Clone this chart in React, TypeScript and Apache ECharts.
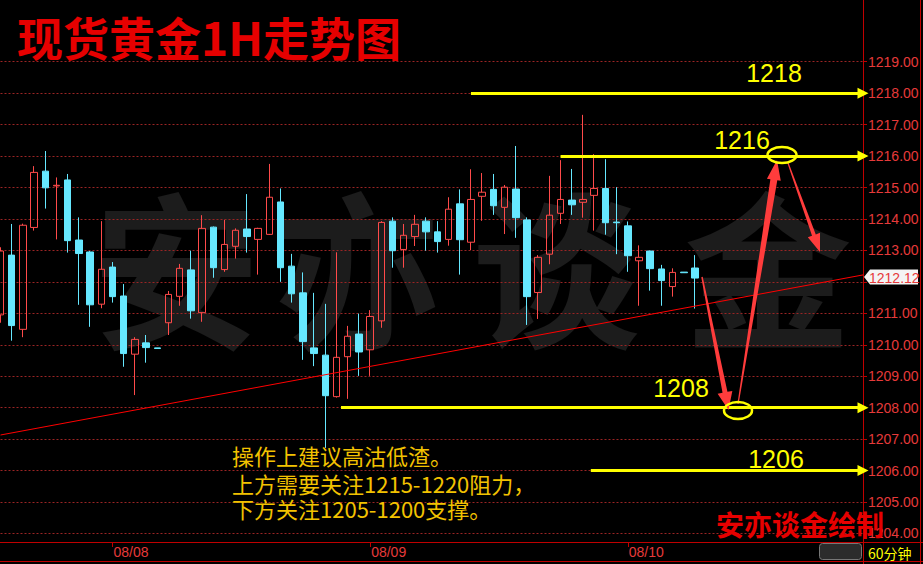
import React, { useEffect, useRef } from 'react';
import * as echarts from 'echarts';

// ---- data ----
const open = [
  1210.95, 1212.85, 1210.49, 1213.73, 1215.52, 1215.05, 1215.24, 1213.33, 1212.95, 1211.29,
  1212.47, 1211.55, 1209.70, 1210.06, 1209.90, 1210.70, 1211.54, 1212.38, 1211.02, 1213.74,
  1212.39, 1213.13, 1213.68, 1213.35, 1213.51, 1214.54, 1212.50, 1211.65, 1209.90, 1209.67,
  1208.35, 1209.62, 1210.34, 1209.84, 1210.76, 1213.93, 1213.03, 1213.44, 1213.93, 1213.59,
  1213.35, 1214.48, 1213.26, 1214.72, 1214.94, 1214.37, 1214.95, 1213.97, 1211.66, 1212.88,
  1214.18, 1214.60, 1214.53, 1214.75, 1214.97, 1213.90, 1213.78, 1212.67, 1212.98, 1212.41,
  1211.85, 1212.31, 1212.44,
];
const close = [
  1212.98, 1210.61, 1213.80, 1215.48, 1214.99, 1215.07, 1213.31, 1212.90, 1211.27, 1212.40,
  1211.53, 1209.72, 1210.17, 1209.91, 1209.88, 1211.60, 1212.43, 1211.08, 1213.70, 1212.45,
  1213.19, 1213.64, 1213.44, 1213.70, 1214.69, 1212.45, 1211.62, 1210.10, 1209.72, 1208.38,
  1209.60, 1210.27, 1209.77, 1210.90, 1213.89, 1212.99, 1213.48, 1213.83, 1213.59, 1213.28,
  1214.31, 1213.34, 1214.62, 1214.85, 1214.42, 1215.01, 1214.04, 1211.53, 1212.78, 1214.12,
  1214.62, 1214.45, 1214.62, 1214.97, 1213.88, 1213.88, 1212.83, 1212.78, 1212.42, 1212.04,
  1212.30, 1212.29, 1212.12,
];
const low = [
  1210.70, 1210.13, 1210.24, 1213.63, 1214.33, 1213.35, 1212.93, 1211.27, 1210.57, 1211.16,
  1211.34, 1209.30, 1208.40, 1209.43, 1209.88, 1210.31, 1211.24, 1210.83, 1210.73, 1212.13,
  1212.32, 1212.74, 1212.93, 1212.23, 1213.49, 1212.00, 1211.34, 1209.52, 1209.32, 1206.72,
  1208.32, 1208.28, 1209.01, 1209.01, 1210.54, 1212.45, 1212.45, 1213.14, 1212.99, 1212.93,
  1213.15, 1212.23, 1213.01, 1213.94, 1214.13, 1213.52, 1213.40, 1210.63, 1210.82, 1212.56,
  1213.84, 1214.13, 1214.04, 1213.63, 1213.50, 1212.88, 1212.32, 1211.24, 1211.72, 1211.24,
  1211.53, 1212.29, 1211.15,
];
const high = [
  1213.10, 1213.84, 1213.85, 1215.68, 1216.16, 1215.32, 1215.43, 1214.05, 1212.98, 1213.93,
  1212.63, 1211.93, 1210.24, 1210.31, 1209.90, 1211.71, 1212.57, 1212.99, 1214.12, 1213.76,
  1213.97, 1213.70, 1214.79, 1213.72, 1215.75, 1214.97, 1212.89, 1212.30, 1211.65, 1211.30,
  1212.94, 1210.60, 1210.99, 1211.10, 1213.93, 1214.05, 1213.84, 1214.13, 1214.05, 1213.93,
  1214.69, 1214.94, 1215.58, 1215.46, 1215.43, 1215.08, 1216.32, 1214.05, 1212.85, 1215.37,
  1215.87, 1215.59, 1217.31, 1216.06, 1215.90, 1215.01, 1213.92, 1213.16, 1212.99, 1212.54,
  1212.43, 1212.31, 1212.85,
];
const slotCount = 78;
const dayStartIndex = [10, 33, 56];
const dayLabels = ['08/08', '08/09', '08/10'];
const priceMin = 1204;
const priceMax = 1219;
const lastPrice = 1212.12;
const levelPrices = [1218, 1216, 1208, 1206];
const levelStarts = [42.0, 50.0, 30.4, 52.7];
const trendStart = [0, 1207.13];
const trendEnd = [77, 1212.22];
const noteLines = ['操作上建议高沽低渣。', '上方需要关注1215-1220阻力，', '下方关注1205-1200支撑。'];
const watermarkChars = ['安', '亦', '谈', '金'];

const categories = Array.from({ length: slotCount }, (_, i) => {
  const d = dayStartIndex.indexOf(i);
  return d >= 0 ? dayLabels[d] : 'h' + i;
});

const CJK = '"Noto Sans CJK SC", "Noto Sans", sans-serif';
const LAT = '"Liberation Sans", Arial, sans-serif';
const axisRed = '#c00000';
const labelRed = '#e63a3a';
const gridRed = '#9a2424';
const upRed = '#ff4a4a';
const downCyan = '#66e8ff';
const yellow = '#ffff00';
const arrowRed = '#ff3c3c';

function arrowPoints(x1: number, y1: number, x2: number, y2: number, w0: number, w1: number, hl: number, hw: number) {
  const dx = x2 - x1, dy = y2 - y1;
  const L = Math.sqrt(dx * dx + dy * dy);
  const ux = dx / L, uy = dy / L;
  const nx = -uy, ny = ux;
  const bx = x2 - ux * hl, by = y2 - uy * hl;
  return [
    [x1 + nx * w0 / 2, y1 + ny * w0 / 2],
    [bx + nx * w1 / 2, by + ny * w1 / 2],
    [bx + nx * hw / 2, by + ny * hw / 2],
    [x2, y2],
    [bx - nx * hw / 2, by - ny * hw / 2],
    [bx - nx * w1 / 2, by - ny * w1 / 2],
    [x1 - nx * w0 / 2, y1 - ny * w0 / 2],
  ];
}

function txt(text: string, x: number, y: number, font: string, fill: string, align = 'left', z = 60) {
  return {
    type: 'text', z, silent: true,
    style: { text, x, y, font, fill, align, textAlign: align, verticalAlign: 'middle', textVerticalAlign: 'middle' },
  };
}

export default function App() {
  const ref = useRef<HTMLDivElement>(null);
  useEffect(() => {
    if (!ref.current) return;
    const chart = echarts.init(ref.current, undefined, { renderer: 'svg' });
    const candleData = open.map((o, i) => [o, close[i], low[i], high[i]]);
    const isDay = (i: number) => dayStartIndex.indexOf(i) >= 0;

    const markData: any[] = [
      [
        { coord: trendStart, symbol: 'none', lineStyle: { color: '#ff0000', width: 1, type: 'solid' } },
        { coord: trendEnd, symbol: 'none' },
      ],
      ...levelPrices.map((p, k) => [
        { coord: [levelStarts[k], p], symbol: 'none', lineStyle: { color: yellow, width: 3, type: 'solid' } },
        { coord: [77, p], symbol: 'triangle', symbolSize: 11 },
      ]),
    ];

    const graphics: any[] = [];
    const wmX = [176, 358, 556, 768];
    watermarkChars.forEach((c, i) => {
      graphics.push(txt(c, wmX[i], 262, `bold 168px ${CJK}`, '#1c1c1c', 'center', -1));
    });
    graphics.push(txt('现货黄金1H走势图', 17, 36, `bold 46px ${CJK}`, '#e60000', 'left'));
    graphics.push(txt('1218', 774, 73, `25px ${LAT}`, yellow, 'center'));
    graphics.push(txt('1216', 742, 140, `25px ${LAT}`, yellow, 'center'));
    graphics.push(txt('1208', 681, 388, `25px ${LAT}`, yellow, 'center'));
    graphics.push(txt('1206', 776, 459, `25px ${LAT}`, yellow, 'center'));
    const arrows = [
      [702, 277, 728.5, 410, 1.5, 5, 18, 15],
      [738, 404, 777, 160, 1.2, 7, 20, 14],
      [788, 163, 820, 252, 1.2, 4, 18, 13],
    ];
    arrows.forEach((a) => {
      graphics.push({
        type: 'polygon', z: 60, silent: true,
        shape: { points: arrowPoints(a[0], a[1], a[2], a[3], a[4], a[5], a[6], a[7]) },
        style: { fill: arrowRed },
      });
    });
    graphics.push({ type: 'ellipse', z: 61, silent: true, shape: { cx: 782, cy: 155, rx: 14.5, ry: 8 }, style: { fill: 'none', stroke: yellow, lineWidth: 2.5 } });
    graphics.push({ type: 'ellipse', z: 61, silent: true, shape: { cx: 738, cy: 410.5, rx: 14, ry: 8.5 }, style: { fill: 'none', stroke: yellow, lineWidth: 2.5 } });
    const noteY = [455, 483, 508];
    noteLines.forEach((l, i) => graphics.push(txt(l, 232, noteY[i], `22px ${CJK}`, '#f2c200', 'left')));
    graphics.push(txt('安亦谈金绘制', 716, 524, `bold 28px ${CJK}`, '#e60000', 'left'));
    // frame lines
    const frame = [
      [863.5, 0, 863.5, 564],
      [920.5, 0, 920.5, 564],
      [0, 542.5, 923, 542.5],
      [0, 561.5, 923, 561.5],
    ];
    frame.forEach((f) => graphics.push({
      type: 'line', z: 5, silent: true, shape: { x1: f[0], y1: f[1], x2: f[2], y2: f[3] }, style: { stroke: axisRed, lineWidth: 1 },
    }));
    graphics.push({ type: 'rect', z: 60, silent: true, shape: { x: 819.5, y: 543.5, width: 42, height: 16, r: 3 }, style: { fill: '#2c2c2c', stroke: '#777777', lineWidth: 1 } });
    graphics.push(txt('60分钟', 868, 553, `14px ${CJK}`, yellow, 'left'));
    graphics.push({
      type: 'polygon', z: 60, silent: true,
      shape: { points: [[864, 277], [870, 269.5], [918, 269.5], [918, 284.5], [870, 284.5]] },
      style: { fill: '#f4f4f4' },
    });
    graphics.push(txt(lastPrice.toFixed(2), 869, 277.5, `14px ${LAT}`, labelRed, 'left', 61));

    chart.setOption({
      animation: false,
      backgroundColor: '#000000',
      grid: { left: 0.5, right: 60, top: 61.7, bottom: 30.55, containLabel: false },
      xAxis: [
        {
          type: 'category', data: categories, boundaryGap: false, position: 'bottom', offset: 8.55,
          axisLine: { show: true, onZero: false, lineStyle: { color: axisRed, width: 1 } },
          axisTick: { show: true, interval: (i: number) => isDay(i), length: 5, lineStyle: { color: axisRed } },
          axisLabel: {
            show: true, interval: (i: number) => isDay(i), align: 'left', margin: 3,
            color: labelRed, fontSize: 14, fontFamily: LAT, padding: [0, 0, 0, 1],
          },
          splitLine: { show: false },
        },
        { type: 'value', min: 0, max: 77, show: false, axisLine: { show: false, onZero: false }, splitLine: { show: false } },
      ],
      yAxis: {
        type: 'value', position: 'right', min: priceMin, max: priceMax, interval: 1,
        axisLine: { show: true, onZero: false, lineStyle: { color: axisRed, width: 1 } },
        axisTick: { show: true, length: 4, lineStyle: { color: axisRed } },
        axisLabel: {
          color: labelRed, fontSize: 14, fontFamily: LAT, margin: 5,
          formatter: (v: number) => (Math.abs(v - Math.floor(lastPrice)) < 1e-6 ? '' : v.toFixed(2)),
        },
        splitLine: { show: true, lineStyle: { color: gridRed, width: 1, type: [2, 2] } },
      },
      series: [
        {
          type: 'candlestick', xAxisIndex: 0, yAxisIndex: 0, data: candleData, barWidth: 7, silent: true,
          itemStyle: { color: 'transparent', color0: downCyan, borderColor: upRed, borderColor0: downCyan, borderWidth: 1 },
        },
        {
          type: 'line', xAxisIndex: 1, yAxisIndex: 0, data: [], silent: true, clip: false, z: 4,
          markLine: {
            silent: true, animation: false, symbol: ['none', 'none'], label: { show: false },
            emphasis: { disabled: true }, data: markData,
          },
        },
      ],
      graphic: { elements: graphics },
    });
    return () => chart.dispose();
  }, []);
  return <div ref={ref} style={{ position: 'fixed', left: 0, top: 0, width: 923, height: 564, background: '#000' }} />;
}
